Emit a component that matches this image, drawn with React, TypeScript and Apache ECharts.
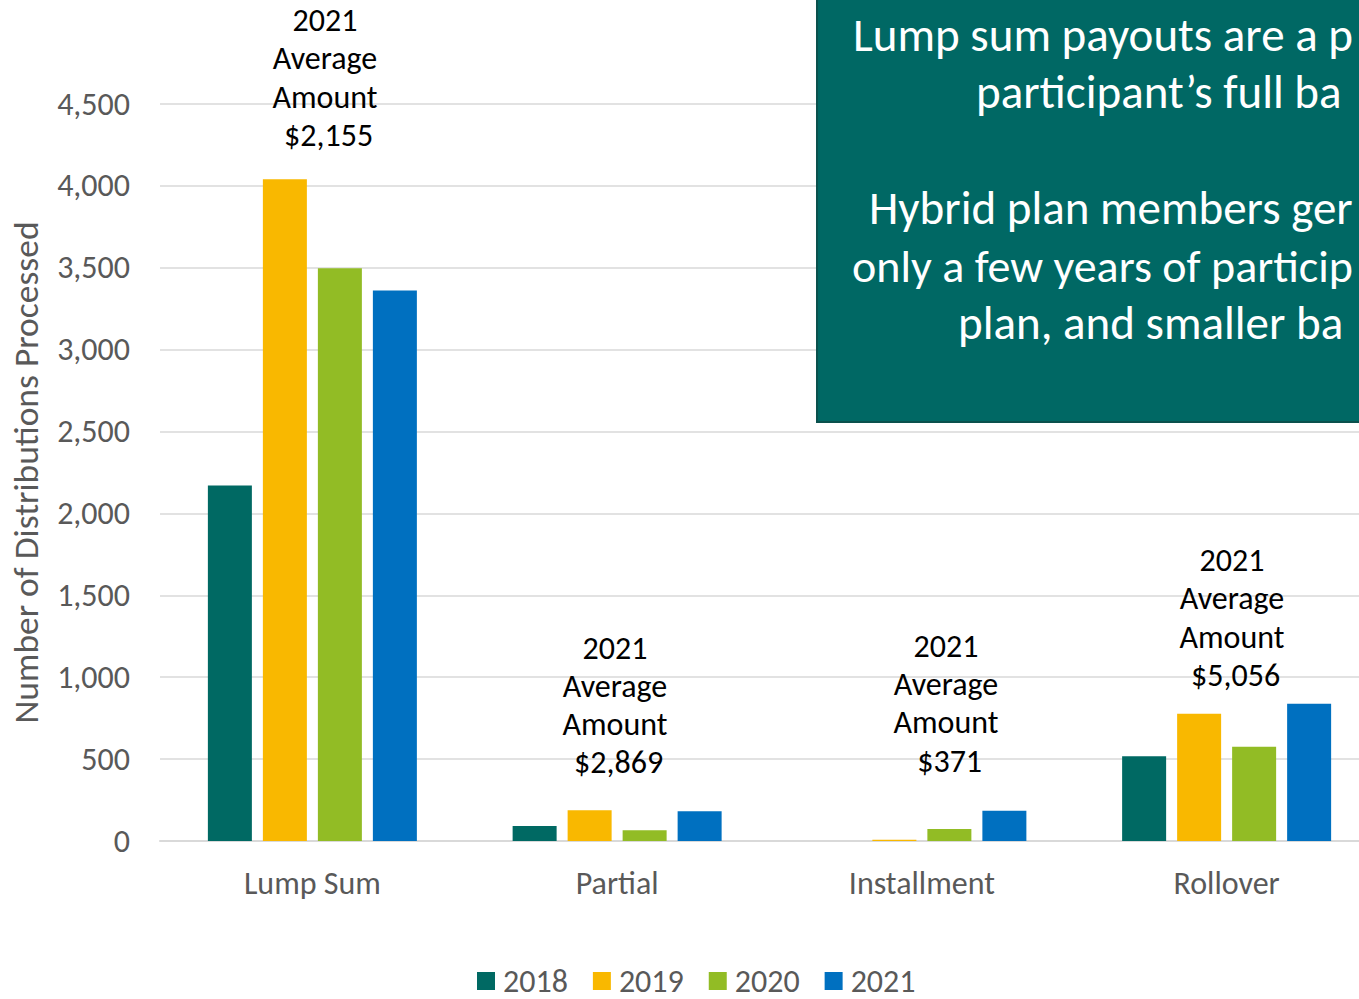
import React, { useEffect, useRef } from "react";
import * as echarts from "echarts";

const categories = ["Lump Sum", "Partial", "Installment", "Rollover"];
const years = ["2018", "2019", "2020", "2021"];
const values2018 = [2170, 92, 0, 517];
const values2019 = [4040, 187, 8, 777];
const values2020 = [3497, 65, 73, 576];
const values2021 = [3362, 181, 185, 838];
const seriesValues = [values2018, values2019, values2020, values2021];
const yearColors = ["#006963", "#F9B800", "#92BC25", "#0070C0"];
const averageAmounts = ["$2,155", "$2,869", "$371", "$5,056"];
const yAxisTitle = "Number of Distributions Processed";
const boxLines = [
  "Lump sum payouts are a p",
  "participant\u2019s full ba",
  "Hybrid plan members ger",
  "only a few years of particip",
  "plan, and smaller ba",
];

const FONT = "Carlito, Calibri, 'Open Sans', sans-serif";

// annotation layout (x center, top of block, line height)
const annotationLayout = [
  { x: 325, y: 1, lh: 38.5 },
  { x: 615, y: 629, lh: 38.2 },
  { x: 946, y: 627, lh: 38.3 },
  { x: 1232, y: 541, lh: 38.5 },
];
const boxLineLayout = [
  { x: 853, y: 35, size: 47 },
  { x: 976, y: 92, size: 47 },
  { x: 869, y: 208, size: 47 },
  { x: 852, y: 266, size: 46 },
  { x: 958, y: 323, size: 47 },
];

export default function App() {
  const ref = useRef<HTMLDivElement>(null);
  useEffect(() => {
    if (!ref.current) return;
    const chart = echarts.init(ref.current, undefined, { renderer: "svg" });
    const graphics: any[] = [];
    averageAmounts.forEach((amt, i) => {
      const l = annotationLayout[i];
      graphics.push({
        type: "text",
        x: l.x,
        y: l.y,
        z: 50,
        style: {
          text: "2021\nAverage\nAmount\n " + amt,
          fill: "#000000",
          fontSize: 32,
          fontFamily: FONT,
          lineHeight: l.lh,
          align: "center",
          verticalAlign: "top",
        },
      });
    });
    graphics.push({
      type: "rect",
      z: 100,
      shape: { x: 817, y: -10, width: 600, height: 432 },
      style: { fill: "#006864", stroke: "#0B514D", lineWidth: 2 },
    });
    boxLines.forEach((t, i) => {
      const l = boxLineLayout[i];
      graphics.push({
        type: "text",
        x: l.x,
        y: l.y,
        z: 101,
        style: {
          text: t,
          fill: "#FFFFFF",
          fontSize: l.size,
          fontFamily: FONT,
          align: "left",
          verticalAlign: "middle",
        },
      });
    });

    chart.setOption({
      animation: false,
      backgroundColor: "#FFFFFF",
      textStyle: { fontFamily: FONT },
      grid: {
        left: 160,
        right: -20,
        top: 104,
        bottom: 158,
        containLabel: false,
        outerBoundsMode: "none",
      },
      legend: {
        data: years,
        left: 477,
        top: 965,
        padding: 0,
        itemWidth: 18,
        itemHeight: 18,
        itemGap: 25,
        icon: "rect",
        textStyle: {
          color: "#595959",
          fontSize: 32,
          fontFamily: FONT,
          lineHeight: 32,
          padding: [0, 0, 0, 3],
        },
      },
      xAxis: {
        type: "category",
        data: categories,
        axisLine: { show: true, lineStyle: { color: "#D9D9D9", width: 2 } },
        axisTick: { show: false },
        axisLabel: {
          color: "#595959",
          fontSize: 32,
          fontFamily: FONT,
          margin: 26,
          lineHeight: 32,
        },
      },
      yAxis: {
        type: "value",
        min: 0,
        max: 4500,
        interval: 500,
        name: yAxisTitle,
        nameLocation: "middle",
        nameRotate: 90,
        nameGap: 116,
        nameTextStyle: { color: "#595959", fontSize: 35.5, fontFamily: FONT },
        axisLine: { show: false },
        axisTick: { show: false },
        splitLine: { lineStyle: { color: "#D9D9D9", width: 1.5 } },
        axisLabel: {
          color: "#595959",
          fontSize: 32,
          fontFamily: FONT,
          margin: 30,
          formatter: (v: number) => v.toLocaleString("en-US"),
        },
      },
      series: years.map((y, i) => ({
        name: y,
        type: "bar",
        data: seriesValues[i],
        barWidth: 44,
        barGap: "25%",
        itemStyle: { color: yearColors[i] },
      })),
      graphic: graphics,
    });
    return () => chart.dispose();
  }, []);
  return (
    <div
      ref={ref}
      style={{ position: "absolute", left: 0, top: 0, width: 1359, height: 999, overflow: "hidden" }}
    />
  );
}
